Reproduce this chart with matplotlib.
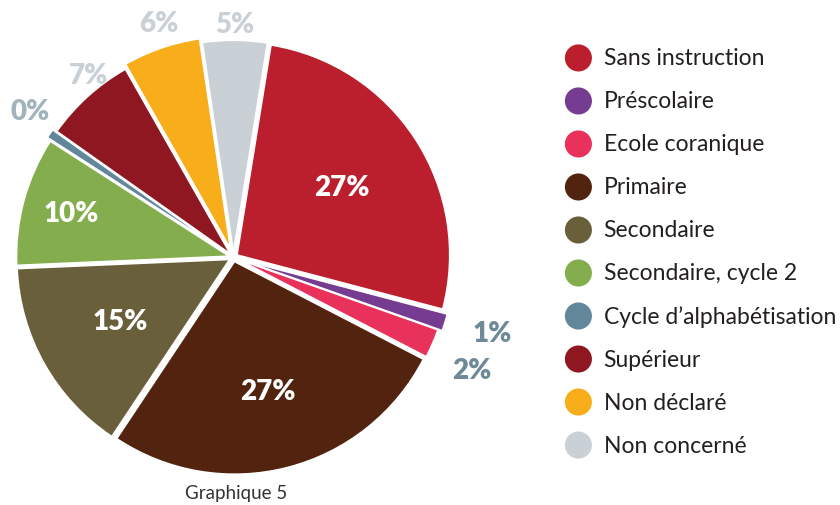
import numpy as np
import matplotlib
matplotlib.use("Agg")
import matplotlib.pyplot as plt

plt.rcParams['font.family'] = ['Lato', 'DejaVu Sans']

categories = ['Sans instruction', 'Préscolaire', 'Ecole coranique', 'Primaire',
              'Secondaire', 'Secondaire, cycle 2', "Cycle d’alphabétisation",
              'Supérieur', 'Non déclaré', 'Non concerné']
shares = [26.6, 1.3, 2.2, 26.8, 15.0, 9.8, 0.7, 7.0, 5.9, 4.9]
pct_labels = ['27%', '1%', '2%', '27%', '15%', '10%', '0%', '7%', '6%', '5%']
colors = ['#BB1E2D', '#763C92', '#E8325C', '#52240F', '#6A5F3B',
          '#84AE4D', '#62869A', '#8E1722', '#F8AE1A', '#C9D0D6']

# label placement: radius, angle nudge (deg), colour per slice
label_r = [0.60, 1.25, 1.22, 0.64, 0.60, 0.78, 1.16, 1.08, 1.14, 1.08]
label_dt = [0, 0.8, -2.0, 0, 0, 0, -1.7, -3.7, -1.3, 0]
label_c = ['white', '#6E8A99', '#6E8A99', 'white', 'white', 'white',
           '#A3B3BE', '#C9D0D6', '#C9D0D6', '#C9D0D6']
explode = [0.02, 0.04, 0.02, 0.02, 0.02, 0.02, 0.04, 0.02, 0.04, 0.02]

fig = plt.figure(figsize=(8.4, 5.06), dpi=100)
ax = fig.add_axes([-0.005, 0.02, 0.5657, 0.939])
wedges, _ = ax.pie(shares, colors=colors, startangle=80.8, counterclock=False,
                   explode=explode, radius=0.985,
                   wedgeprops=dict(edgecolor='white', linewidth=1.2))
ax.set_xlim(-1.1, 1.1)
ax.set_ylim(-1.1, 1.1)
ax.set_aspect('equal')
ax.axis('off')

for w, lab, r, dt, c in zip(wedges, pct_labels, label_r, label_dt, label_c):
    mid = np.deg2rad((w.theta1 + w.theta2) / 2 + dt)
    ax.text(r * np.cos(mid), r * np.sin(mid), lab, color=c, fontsize=20,
            fontweight='heavy', ha='center', va='center')

fig.text(236 / 840, 1 - 494 / 506, 'Graphique 5', ha='center', va='center',
         fontsize=13.5, color='#333333')

# legend
leg = fig.add_axes([0.66, 0.076, 0.34, 0.85])
leg.set_xlim(0, 1)
leg.set_ylim(len(categories) - 0.5, -0.5)
leg.axis('off')
ys = np.arange(len(categories))
leg.scatter(np.full(len(ys), 0.084), ys, s=380, c=colors, edgecolors='none')
for y, name in zip(ys, categories):
    leg.text(0.172, y, name, fontsize=16.5, color='#231F20', va='center', ha='left')

fig.savefig('out.png', dpi=100)
